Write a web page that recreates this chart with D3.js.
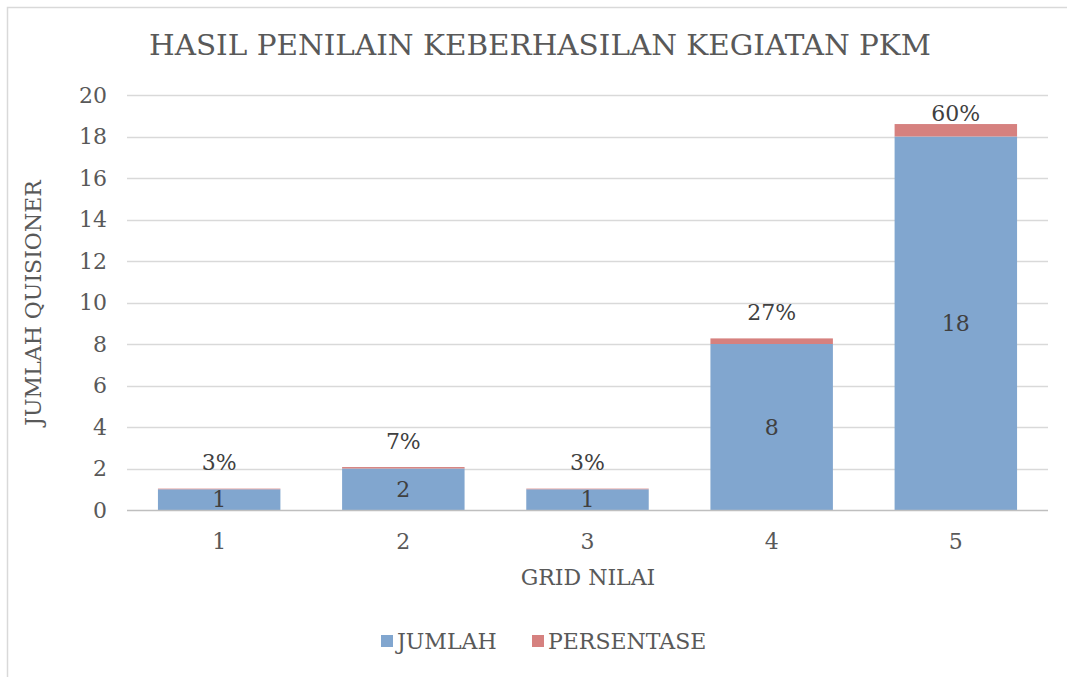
<!DOCTYPE html>
<html>
<head>
<meta charset="utf-8">
<script src="https://cdn.jsdelivr.net/npm/d3@7"></script>
<style>
  body { margin: 0; background: #fff; }
  text { font-family: "DejaVu Serif", "Liberation Serif", serif; }
</style>
</head>
<body>
<div id="chart"></div>
<script>
// data
const categories = ['1', '2', '3', '4', '5']
const jumlah = [1, 2, 1, 8, 18]
const persentase = [0.03, 0.07, 0.03, 0.27, 0.6]
const yTicks = [0, 2, 4, 6, 8, 10, 12, 14, 16, 18, 20]

const width = 1067
const height = 677
const margin = { top: 95, right: 19, bottom: 167, left: 127 }

const blue = '#81a6cf'
const red = '#d6817f'
const textColor = '#595959'
const fs = 22

const svg = d3.select('#chart')
  .append('svg')
  .attr('width', width)
  .attr('height', height)

// chart frame (only left and top edges visible)
svg.append('path')
  .attr('d', `M7.5,${height} V7.5 H${width}`)
  .attr('fill', 'none')
  .attr('stroke', '#d9d9d9')
  .attr('stroke-width', 1.5)

const x = d3.scaleBand()
  .domain(categories)
  .range([margin.left, width - margin.right])
  .paddingInner(0.335)
  .paddingOuter(0.168)

const y = d3.scaleLinear()
  .domain([0, 20])
  .range([height - margin.bottom, margin.top])

// gridlines
svg.append('g')
  .selectAll('line')
  .data(yTicks.slice(1))
  .enter()
  .append('line')
  .attr('x1', margin.left)
  .attr('x2', width - margin.right)
  .attr('y1', d => Math.round(y(d)) + 0.5)
  .attr('y2', d => Math.round(y(d)) + 0.5)
  .attr('stroke', '#d9d9d9')
  .attr('stroke-width', 1.5)

// stacked series
const rows = categories.map((c, i) => ({ cat: c, jumlah: jumlah[i], persentase: persentase[i] }))
const stack = d3.stack().keys(['jumlah', 'persentase'])(rows)
const colors = { jumlah: blue, persentase: red }

svg.append('g')
  .selectAll('g')
  .data(stack)
  .enter()
  .append('g')
  .attr('fill', d => colors[d.key])
  .selectAll('rect')
  .data(d => d)
  .enter()
  .append('rect')
  .attr('x', d => x(d.data.cat))
  .attr('width', x.bandwidth())
  .attr('y', d => y(d[1]))
  .attr('height', d => y(d[0]) - y(d[1]))

// baseline
svg.append('line')
  .attr('x1', margin.left)
  .attr('x2', width - margin.right)
  .attr('y1', y(0) + 0.5)
  .attr('y2', y(0) + 0.5)
  .attr('stroke', '#bfbfbf')
  .attr('stroke-width', 1.5)

// y axis labels
svg.append('g')
  .selectAll('text')
  .data(yTicks)
  .enter()
  .append('text')
  .attr('x', 107)
  .attr('y', d => y(d))
  .attr('dy', '0.35em')
  .attr('text-anchor', 'end')
  .attr('fill', textColor)
  .attr('font-size', fs)
  .text(d => d)

// x axis labels
svg.append('g')
  .selectAll('text')
  .data(categories)
  .enter()
  .append('text')
  .attr('x', d => x(d) + x.bandwidth() / 2)
  .attr('y', 541)
  .attr('dy', '0.35em')
  .attr('text-anchor', 'middle')
  .attr('fill', textColor)
  .attr('font-size', fs)
  .text(d => d)

// value labels inside the blue bars
svg.append('g')
  .selectAll('text')
  .data(stack[0])
  .enter()
  .append('text')
  .attr('x', d => x(d.data.cat) + x.bandwidth() / 2)
  .attr('y', d => y((d[0] + d[1]) / 2))
  .attr('dy', '0.35em')
  .attr('text-anchor', 'middle')
  .attr('fill', '#404040')
  .attr('font-size', fs)
  .text(d => d.data.jumlah)

// percentage labels above the stack, kept inside the plot area
svg.append('g')
  .selectAll('text')
  .data(stack[1])
  .enter()
  .append('text')
  .attr('x', d => x(d.data.cat) + x.bandwidth() / 2)
  .attr('y', d => Math.max(y(d[1]) - 26, margin.top + 18))
  .attr('dy', '0.35em')
  .attr('text-anchor', 'middle')
  .attr('fill', '#404040')
  .attr('font-size', fs)
  .text(d => Math.round(d.data.persentase * 100) + '%')

// title
svg.append('text')
  .attr('x', 540)
  .attr('y', 46)
  .attr('dy', '0.35em')
  .attr('text-anchor', 'middle')
  .attr('fill', textColor)
  .attr('font-size', 27)
  .attr('textLength', 782)
  .attr('lengthAdjust', 'spacingAndGlyphs')
  .text('HASIL PENILAIN KEBERHASILAN KEGIATAN PKM')

// axis titles
svg.append('text')
  .attr('x', 588)
  .attr('y', 577)
  .attr('dy', '0.35em')
  .attr('text-anchor', 'middle')
  .attr('fill', textColor)
  .attr('font-size', fs)
  .text('GRID NILAI')

svg.append('text')
  .attr('transform', 'translate(33,303) rotate(-90)')
  .attr('dy', '0.35em')
  .attr('text-anchor', 'middle')
  .attr('fill', textColor)
  .attr('font-size', fs)
  .text('JUMLAH QUISIONER')

// legend
const legendItems = [
  { label: 'JUMLAH', color: blue, x: 381 },
  { label: 'PERSENTASE', color: red, x: 532 }
]
const legend = svg.append('g')
  .selectAll('g')
  .data(legendItems)
  .enter()
  .append('g')
  .attr('transform', d => `translate(${d.x},641)`)

legend.append('rect')
  .attr('x', 0)
  .attr('y', -6)
  .attr('width', 12)
  .attr('height', 12)
  .attr('fill', d => d.color)

legend.append('text')
  .attr('x', 16)
  .attr('dy', '0.35em')
  .attr('fill', textColor)
  .attr('font-size', fs)
  .text(d => d.label)
</script>
</body>
</html>
